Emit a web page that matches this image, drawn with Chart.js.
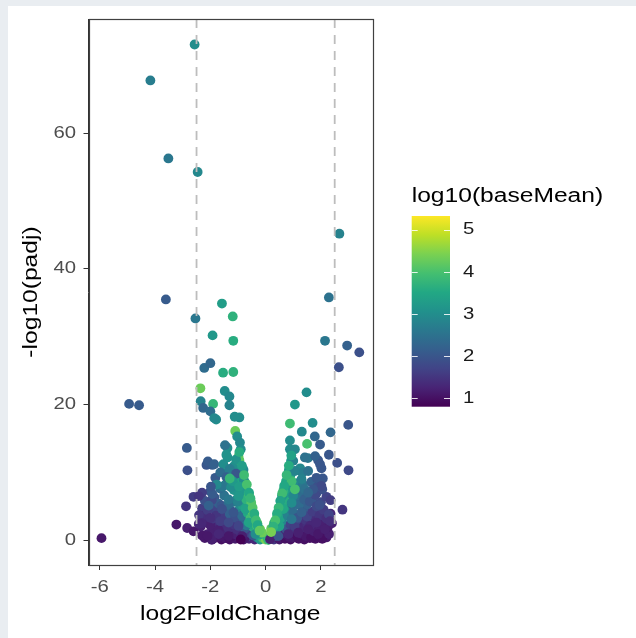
<!DOCTYPE html>
<html lang="en">
<head>
    <meta charset="UTF-8">
    <title>Volcano plot</title>
    <script src="https://cdn.jsdelivr.net/npm/chart.js"></script>
    <style>
        html, body { margin: 0; padding: 0; }
        body {
            background-color: #e9edf1;
            width: 636px;
            height: 638px;
            position: relative;
            overflow: hidden;
        }
        #wrap {
            position: absolute;
            left: 8px;
            top: 6px;
            width: 628px;
            height: 632px;
            background: #ffffff;
        }
        #volcano { display: block; }
    </style>
</head>
<body>
<div id="wrap"><canvas id="volcano" width="628" height="632"></canvas></div>
<script>
    // ---- data (log2FoldChange, -log10(padj), log10(baseMean)) ----
    // dense bottom row
    const bottomFC   = [-2.2,-2.1,-1.9,-1.85,-1.75,-1.6,-1.55,-1.45,-1.3,-1.2,-1.1,-1.0,-0.95,-0.8,-0.7,-0.6,-0.5,-0.4,-0.3,-0.2,-0.1,0.0,0.05,0.1,0.2,0.3,0.4,0.5,0.6,0.7,0.8,0.9,1.0,1.1,1.2,1.3,1.4,1.5,1.6,1.7,1.8,1.9,2.0,2.1,2.2];
    const bottomP    = [0.3,0.9,0.2,1.4,0.5,0.1,1.2,0.3,0.1,0.9,0.2,1.3,0.4,0.1,0.8,0.2,0.5,0.1,0.4,0.1,0.3,0.1,0.5,0.1,0.3,0.1,0.4,0.1,0.5,0.2,0.8,0.1,0.4,1.2,0.2,0.7,0.1,1.0,0.3,0.8,0.2,1.3,0.5,1.0,0.4];
    const bottomMean = [1.1,1.2,1.0,1.3,1.1,1.0,1.2,1.1,1.0,1.3,1.1,1.4,1.2,1.0,1.5,1.2,1.8,1.3,2.6,3.2,4.0,4.4,3.5,3.9,2.8,1.5,1.4,1.1,1.2,1.0,1.2,1.0,1.1,1.3,1.0,1.2,1.0,1.1,1.0,1.2,1.0,1.1,1.0,1.2,1.1];

    // second layer near the bottom
    const baseFC   = [-2.3,-2.05,-1.8,-1.65,-1.4,-1.25,-1.05,-0.9,-0.75,-0.55,-0.45,-0.25,0.25,0.35,0.55,0.65,0.85,0.95,1.15,1.25,1.45,1.65,1.75,1.95,2.05,2.3];
    const baseP    = [0.7,0.4,0.8,0.6,1.0,0.5,0.8,1.1,0.4,1.0,0.7,0.8,0.8,0.6,0.9,1.1,0.5,1.2,0.6,1.0,0.6,0.4,1.3,0.7,0.2,0.9];
    const baseMean = [1.1,1.0,1.2,1.1,1.3,1.0,1.2,1.4,1.1,1.6,2.0,3.4,3.1,1.9,1.4,1.3,1.1,1.4,1.0,1.2,1.1,1.0,1.2,1.1,1.0,1.2];

    // band 1.5 - 3
    const lowFC   = [-2.35,-2.15,-1.95,-1.8,-1.65,-1.5,-1.35,-1.2,-1.05,-0.9,-0.75,-0.6,-0.45,-0.3,-0.2,0.2,0.3,0.45,0.6,0.75,0.9,1.05,1.2,1.35,1.5,1.65,1.8,1.95,2.1,2.25,2.4];
    const lowP    = [2.0,2.6,1.9,2.5,1.7,2.4,1.8,2.7,1.6,2.4,1.7,2.8,1.9,2.5,1.6,1.7,2.5,1.9,2.7,1.6,2.3,1.8,2.6,1.9,2.4,1.7,2.9,2.0,2.6,1.9,2.5];
    const lowMean = [1.2,1.3,1.2,1.4,1.3,1.5,1.4,1.6,1.4,1.8,2.0,3.0,3.6,4.1,4.3,4.2,3.9,3.3,2.9,2.0,1.7,1.5,1.5,1.3,1.4,1.2,1.3,1.2,1.3,1.1,1.2];

    // more points 1.5 - 5
    const lowFillFC   = [-2.2,-2.0,-1.85,-1.6,-1.4,-1.25,-1.15,-0.8,-0.7,-0.5,-0.38,0.38,0.5,0.65,0.9,1.1,1.25,1.45,1.6,1.75,2.0,2.15,2.35,-2.3,-1.7,-1.0,1.05,1.85];
    const lowFillP    = [3.0,2.2,4.6,3.8,2.0,4.3,2.3,3.0,2.2,2.4,3.0,2.7,2.1,3.6,4.6,2.9,3.7,3.0,2.1,3.4,2.5,3.5,3.9,4.7,1.5,3.9,2.1,4.5];
    const lowFillMean = [1.3,1.2,1.7,1.5,1.4,2.0,1.5,2.2,2.6,3.5,3.9,3.8,3.4,2.6,2.3,1.7,1.9,1.5,1.3,1.4,1.2,1.4,1.3,1.6,1.2,2.5,1.6,1.7];

    // band 3 - 5
    const midFC   = [-2.25,-2.1,-1.9,-1.75,-1.5,-1.45,-1.3,-1.1,-0.95,-0.85,-0.65,-0.55,-0.48,-0.42,0.42,0.46,0.55,0.7,0.8,1.0,1.15,1.4,1.5,1.7,1.95,2.1,2.2];
    const midP    = [3.6,4.4,3.2,4.1,3.4,4.8,3.9,3.3,4.6,3.6,4.0,3.2,4.3,3.4,3.4,4.3,3.3,4.4,3.6,4.1,3.3,4.6,3.5,4.2,3.6,4.5,3.2];
    const midMean = [1.4,1.6,1.5,1.7,1.6,2.0,2.2,1.9,2.9,2.4,3.5,3.9,4.2,4.0,4.0,3.8,3.4,3.1,2.8,2.4,2.0,2.1,1.7,1.6,1.5,1.6,1.4];

    // band 5 - 9
    const upFC   = [-2.2,-1.85,-1.7,-1.5,-1.2,-1.05,-0.85,-0.75,-0.55,-0.62,0.55,0.6,0.65,0.8,1.1,1.25,1.5,1.7,2.0,2.2,-1.65,-1.45,-1.15,-0.85,-0.74,-0.66,0.7,0.75,1.2,1.35,1.85,2.05];
    const upP    = [5.8,6.3,5.4,6.6,5.6,6.0,5.2,6.2,5.9,6.9,5.7,6.6,5.4,6.3,5.6,6.5,5.3,6.1,5.6,6.4,7.6,8.2,7.4,7.6,8.5,7.2,7.9,8.3,8.0,7.2,7.0,7.5];
    const upMean = [1.9,2.0,2.2,2.5,2.6,3.0,3.3,3.6,4.0,3.8,3.9,3.6,3.3,3.0,2.6,2.5,2.2,2.0,1.8,1.7,2.4,2.8,3.1,3.4,3.9,4.2,3.8,3.4,2.7,2.4,2.0,1.9];

    // more points 5 - 11
    const upFillFC   = [-1.95,-1.6,-1.35,-1.0,-0.9,-0.7,-2.0,-1.55,-1.25,-0.95,-1.5,-1.15,0.7,0.85,1.0,1.2,1.4,1.6,1.8,0.8,1.15,1.35,1.65,0.9,1.25,-2.3,2.35];
    const upFillP    = [5.9,5.1,5.2,5.7,7.1,6.0,7.2,7.9,7.8,9.0,9.9,10.9,5.9,7.0,6.6,5.2,6.0,5.7,6.7,8.0,8.4,8.2,8.6,9.6,10.6,7.0,5.9];
    const upFillMean = [1.8,2.0,2.4,2.8,3.2,3.7,2.0,2.6,3.0,3.4,2.8,3.0,3.6,3.3,2.9,2.4,2.2,2.0,1.8,3.2,2.9,2.6,2.2,3.3,2.9,1.6,1.6];

    // left arm
    const leftFC = [
        -2.36,-1.48,-1.31,-1.31,-2.35,-1.9,-2.26,-2.0,-1.79,-0.95,
        -1.1,-1.03,-2.85,-1.38,-0.93,-0.9,-2.83,-2.14,-1.93,-0.95,
        -1.38,-1.82,-1.23,-1.1,-0.8,-1.77,-2.61,-2.88,-1.93,-2.06,
        -2.41,-3.23,-2.84,-2.61,-2.32,-1.95,-1.8,-1.12,-1.86,-1.47,
        -1.42,-0.98,-1.07,-2.09,-1.86,-1.53,-0.85,-1.3,-1.64,-1.42,
        -1.07,-1.19,-0.79,-1.3,-1.98,-0.96,-2.42,-2.0,-2.42,-2.1,
        -1.64,-1.58,-1.34,-0.98,-0.61,-0.52,-0.73,-1.16,-1.34,-0.98,
        -0.61,-0.31,-0.13,-0.37,-0.85,-1.34,-1.7];
    const leftP = [
        22.4,22.0,21.2,19.9,20.5,20.1,19.5,19.0,17.8,18.1,
        16.1,15.3,13.6,13.6,14.4,13.4,10.3,11.1,11.1,11.8,
        12.2,9.2,10.1,8.7,10.4,8.2,6.4,5.0,6.8,5.1,
        3.7,2.3,1.8,1.3,2.5,0.05,3.6,18.2,18.0,14.0,
        12.6,12.3,11.9,11.6,11.2,11.2,10.7,10.5,10.0,9.3,
        9.8,8.7,8.9,9.1,7.9,7.9,6.5,3.3,2.4,0.6,
        2.8,4.6,6.0,6.5,6.8,5.5,4.6,4.1,2.6,2.1,
        2.6,2.1,1.1,0.9,0.6,0.6,0.9];
    const leftMean = [
        4.3,3.0,2.9,2.8,2.8,3.8,2.3,2.4,3.0,3.0,
        4.3,3.0,2.1,3.0,2.9,3.0,1.9,2.0,2.1,4.2,
        3.1,2.1,3.0,3.5,2.9,2.9,1.6,1.5,2.1,2.2,
        1.5,1.1,1.2,1.1,1.3,1.2,1.5,3.0,2.9,2.5,
        3.1,4.2,3.1,2.1,2.2,3.0,3.1,2.7,2.4,2.2,
        2.0,3.2,3.0,3.8,2.0,3.3,1.5,1.4,1.3,1.1,
        1.6,1.9,2.6,3.2,3.9,4.1,3.4,2.0,1.8,1.7,
        3.4,4.0,4.3,3.0,1.2,1.1,1.3];

    // right arm
    const rightFC = [
        1.48,1.06,0.88,1.70,2.99,1.31,1.78,2.35,1.5,1.97,
        0.88,0.88,2.29,2.59,3.0,1.53,1.9,2.02,0.84,1.33,
        2.78,2.07,1.88,1.84,2.29,1.06,1.42,1.79,0.92,1.0,
        1.97,1.06,1.54,1.84,0.74,0.94,1.3,2.02,1.72,0.64,
        1.06,1.42,0.1,0.16,0.6,0.64,0.94,0.94,1.3,1.54,
        1.95,2.33,1.84,1.54,1.18,0.82,0.46,1.9,2.15,0.34];
    const rightP = [
        21.8,20.0,17.2,17.3,17.0,16.0,15.3,15.9,14.2,14.1,
        14.7,13.4,12.6,11.4,10.3,12.1,11.8,10.6,10.3,9.95,
        4.5,9.1,7.9,5.0,3.8,13.4,12.2,12.4,11.7,11.7,
        11.2,10.2,10.2,9.2,8.7,8.7,9.0,8.0,7.5,7.3,
        7.5,7.5,0.05,0.15,6.5,4.6,5.5,3.1,4.1,7.0,
        5.2,2.8,2.6,1.6,1.1,0.9,0.6,0.9,1.6,2.6];
    const rightMean = [
        3.0,3.2,3.9,3.0,2.0,2.9,2.3,2.3,4.0,2.1,
        3.0,3.0,2.0,1.9,1.8,2.6,2.0,2.0,3.2,2.7,
        1.5,2.0,1.9,1.8,1.7,2.9,2.5,2.2,3.2,2.8,
        2.0,2.8,2.5,2.0,3.5,3.9,2.8,1.8,2.0,3.7,
        4.0,2.5,3.8,1.2,3.2,3.5,3.0,2.6,2.2,2.3,
        1.9,1.4,1.3,1.2,1.2,1.3,2.0,1.1,1.2,3.3];

    // isolated genes
    const outlierFC   = [-2.57,-4.17,-3.52,-2.46,2.67,-3.61,2.29,-1.58,-2.54,-1.19,-1.92,-1.17,2.15,2.95,3.39,-2.22,-2.0,-1.54,-1.17,2.65,-4.94,-4.58,-5.94];
    const outlierP    = [73.1,67.8,56.3,54.3,45.2,35.5,35.8,34.9,32.7,33.0,30.2,29.4,29.4,28.7,27.7,25.4,26.1,24.7,24.8,25.5,20.1,19.9,0.3];
    const outlierMean = [3.0,2.7,2.6,2.9,2.8,2.1,2.5,3.3,2.6,3.7,3.2,3.6,2.6,2.2,1.9,2.4,2.3,3.6,3.7,1.9,2.1,2.1,1.1];

    // genes along the inner edge of the V
    const innerFC   = [-0.95,-0.86,-0.78,-0.68,-0.6,-0.55,-0.47,-0.41,-0.35,-0.29,-0.22,0.93,0.84,0.76,0.67,0.6,0.53,0.47,0.41,0.35,0.28,0.2,-0.9];
    const innerP    = [13.0,11.0,9.6,8.2,7.0,6.2,4.8,3.9,2.9,2.2,1.4,12.5,11.0,9.6,8.0,6.9,5.8,4.8,3.9,2.9,2.0,1.2,0.1];
    const innerMean = [3.6,3.3,3.9,4.0,3.5,3.8,4.1,3.6,3.9,3.5,4.2,3.4,3.6,3.8,3.5,3.9,3.4,3.8,3.6,4.0,3.7,4.4,0.8];

    const xTicks = [-6, -4, -2, 0, 2];
    const yTicks = [0, 20, 40, 60];
    const legendTicks = [1, 2, 3, 4, 5];
    const cutoffs = [-2.5, 2.5];

    // ---- scales ----
    const X_MIN = -6.41, X_MAX = 3.85;
    const Y_MIN = -3.66, Y_MAX = 76.86;
    const COL_MIN = 0.80, COL_MAX = 5.33;
    const TEXT_STRETCH = 1.23;
    const FONT = '"Liberation Sans", Arial, sans-serif';

    const VIRIDIS = ['#440154','#482475','#414487','#355f8d','#2a788e','#21918c','#22a884','#44bf70','#7ad151','#bddf26','#fde725'];

    function hexToRgb(h) {
        return [parseInt(h.slice(1, 3), 16), parseInt(h.slice(3, 5), 16), parseInt(h.slice(5, 7), 16)];
    }

    function viridis(t) {
        t = Math.max(0, Math.min(1, t));
        const pos = t * (VIRIDIS.length - 1);
        const i = Math.min(Math.floor(pos), VIRIDIS.length - 2);
        const f = pos - i;
        const a = hexToRgb(VIRIDIS[i]), b = hexToRgb(VIRIDIS[i + 1]);
        const c = a.map((v, k) => Math.round(v + (b[k] - v) * f));
        return `rgb(${c[0]},${c[1]},${c[2]})`;
    }

    function colourFor(v) {
        return viridis((v - COL_MIN) / (COL_MAX - COL_MIN));
    }

    // build points from the groups
    const groups = [
        [bottomFC, bottomP, bottomMean],
        [baseFC, baseP, baseMean],
        [lowFC, lowP, lowMean],
        [lowFillFC, lowFillP, lowFillMean],
        [midFC, midP, midMean],
        [upFC, upP, upMean],
        [upFillFC, upFillP, upFillMean],
        [leftFC, leftP, leftMean],
        [rightFC, rightP, rightMean],
        [outlierFC, outlierP, outlierMean],
        [innerFC, innerP, innerMean]
    ];
    const points = [];
    const pointColours = [];
    groups.forEach(([fc, p, m]) => {
        fc.forEach((x, i) => {
            points.push({ x: x, y: p[i] });
            pointColours.push(colourFor(m[i]));
        });
    });

    // draw horizontally widened text like the reference
    function drawText(ctx, str, x, y, opts) {
        ctx.save();
        ctx.translate(x, y);
        if (opts.rotate) ctx.rotate(opts.rotate);
        ctx.scale(TEXT_STRETCH, 1);
        ctx.font = opts.size + 'px ' + FONT;
        ctx.fillStyle = opts.color;
        ctx.textAlign = opts.align || 'center';
        ctx.textBaseline = opts.baseline || 'middle';
        ctx.fillText(str, 0, 0);
        ctx.restore();
    }

    // dashed cut-off lines + panel frame
    const panelPlugin = {
        id: 'panel',
        afterDatasetsDraw(chart) {
            const { ctx, chartArea: a, scales } = chart;
            ctx.save();
            ctx.strokeStyle = '#bdbdbd';
            ctx.lineWidth = 1.8;
            ctx.setLineDash([9, 7]);
            cutoffs.forEach(v => {
                const px = scales.x.getPixelForValue(v);
                ctx.beginPath();
                ctx.moveTo(px, a.top);
                ctx.lineTo(px, a.bottom);
                ctx.stroke();
            });
            ctx.setLineDash([]);
            ctx.strokeStyle = '#404040';
            ctx.lineWidth = 1.2;
            ctx.strokeRect(Math.round(a.left) + 0.5, Math.round(a.top) + 0.5,
                Math.round(a.right - a.left), Math.round(a.bottom - a.top));
            ctx.restore();
        }
    };

    // tick labels, axis titles and the colour bar legend
    const textPlugin = {
        id: 'texts',
        afterDraw(chart) {
            const { ctx, chartArea: a, scales } = chart;
            yTicks.forEach(v => {
                drawText(ctx, String(v), a.left - 12.5, scales.y.getPixelForValue(v),
                    { size: 16.5, color: '#4d4d4d', align: 'right' });
            });
            xTicks.forEach(v => {
                drawText(ctx, String(v), scales.x.getPixelForValue(v), a.bottom + 22.5,
                    { size: 16.5, color: '#4d4d4d' });
            });
            drawText(ctx, 'log2FoldChange', (a.left + a.right) / 2, 613.5,
                { size: 20, color: '#000000', baseline: 'alphabetic' });
            drawText(ctx, '-log10(padj)', 23, (a.top + a.bottom) / 2,
                { size: 20, color: '#000000', rotate: -Math.PI / 2 });

            // colour bar
            const barL = 403.7, barR = 442, barT = 210, barB = 400.7;
            const valToY = v => barB - (v - COL_MIN) / (COL_MAX - COL_MIN) * (barB - barT);
            const grad = ctx.createLinearGradient(0, barB, 0, barT);
            VIRIDIS.forEach((c, i) => grad.addColorStop(i / (VIRIDIS.length - 1), c));
            ctx.save();
            ctx.fillStyle = grad;
            ctx.fillRect(barL, barT, barR - barL, barB - barT);
            ctx.strokeStyle = 'rgba(255,255,255,0.85)';
            ctx.lineWidth = 1;
            legendTicks.forEach(v => {
                const py = Math.round(valToY(v)) + 0.5;
                ctx.beginPath();
                ctx.moveTo(barL, py); ctx.lineTo(barL + 6, py);
                ctx.moveTo(barR - 6, py); ctx.lineTo(barR, py);
                ctx.stroke();
            });
            ctx.restore();
            legendTicks.forEach(v => {
                drawText(ctx, String(v), 455, valToY(v), { size: 16.5, color: '#1a1a1a', align: 'left' });
            });
            drawText(ctx, 'log10(baseMean)', 403.7, 195.7,
                { size: 20, color: '#000000', align: 'left', baseline: 'alphabetic' });
        }
    };

    const ctx = document.getElementById('volcano').getContext('2d');
    new Chart(ctx, {
        type: 'scatter',
        data: {
            datasets: [{
                data: points,
                backgroundColor: pointColours,
                borderWidth: 0,
                pointRadius: 4.9,
                pointHoverRadius: 4.9
            }]
        },
        options: {
            responsive: false,
            animation: false,
            events: [],
            layout: { padding: { left: 0, top: 13, right: 264, bottom: 0 } },
            plugins: {
                legend: { display: false },
                tooltip: { enabled: false }
            },
            scales: {
                x: {
                    type: 'linear',
                    min: X_MIN,
                    max: X_MAX,
                    afterBuildTicks: s => { s.ticks = xTicks.map(v => ({ value: v })); },
                    afterFit: s => { s.height = 73; },
                    ticks: { display: false },
                    grid: { display: true, drawOnChartArea: false, drawTicks: true, tickLength: 5, color: '#333333', lineWidth: 1 },
                    border: { display: true, color: '#333333', width: 1 }
                },
                y: {
                    type: 'linear',
                    min: Y_MIN,
                    max: Y_MAX,
                    afterBuildTicks: s => { s.ticks = yTicks.map(v => ({ value: v })); },
                    afterFit: s => { s.width = 80.5; },
                    ticks: { display: false },
                    grid: { display: true, drawOnChartArea: false, drawTicks: true, tickLength: 5, color: '#333333', lineWidth: 1 },
                    border: { display: true, color: '#333333', width: 1 }
                }
            }
        },
        plugins: [panelPlugin, textPlugin]
    });
</script>
</body>
</html>
